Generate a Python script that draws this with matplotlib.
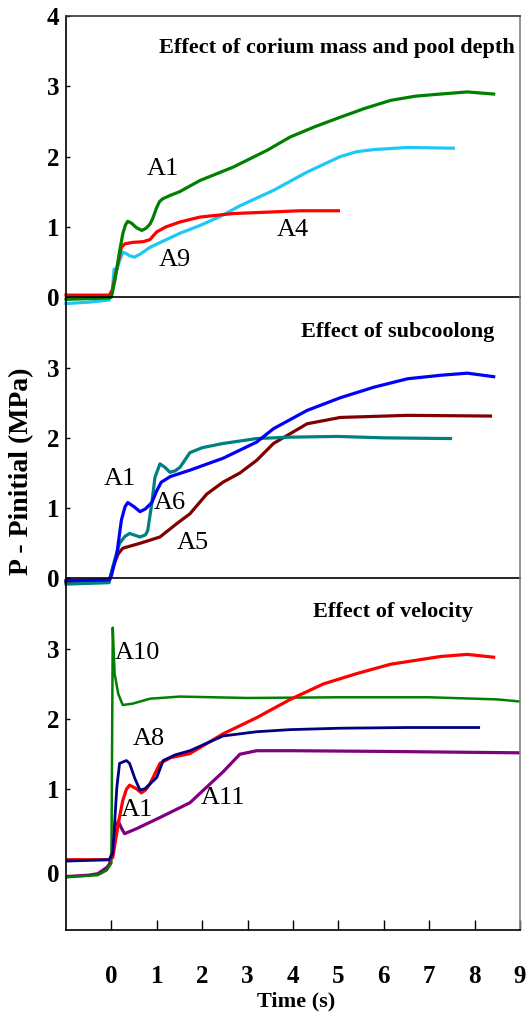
import matplotlib
matplotlib.use('Agg')
import matplotlib.pyplot as plt
from matplotlib.transforms import ScaledTranslation

# ---------------- data ----------------
# Panel 1: effect of corium mass and pool depth
p1_A1_t = [-1, -0.5, -0.05, 0.0, 0.08, 0.18, 0.25, 0.31, 0.36, 0.45, 0.55, 0.67, 0.76, 0.85, 0.91, 1.0, 1.06, 1.13, 1.3, 1.5, 1.95, 2.68, 3.43, 3.94, 4.5, 5.04, 5.6, 6.15, 6.7, 7.25, 7.84, 8.42]
p1_A1_v = [-0.03, -0.02, -0.01, 0.0, 0.25, 0.65, 0.9, 1.03, 1.08, 1.05, 0.99, 0.95, 0.98, 1.04, 1.12, 1.28, 1.36, 1.40, 1.45, 1.5, 1.66, 1.85, 2.09, 2.28, 2.43, 2.56, 2.69, 2.80, 2.86, 2.89, 2.92, 2.89]
p1_A4_t = [-1, -0.05, 0.02, 0.1, 0.22, 0.3, 0.47, 0.7, 0.85, 0.93, 1.0, 1.2, 1.51, 1.95, 2.68, 3.43, 4.16, 5.0]
p1_A4_v = [0.03, 0.03, 0.1, 0.35, 0.71, 0.76, 0.78, 0.79, 0.82, 0.88, 0.93, 1.0, 1.07, 1.14, 1.19, 1.21, 1.23, 1.23]
p1_A9_t = [-1, -0.5, -0.05, 0.02, 0.06, 0.1, 0.18, 0.25, 0.33, 0.4, 0.51, 0.65, 0.85, 1.51, 1.95, 2.4, 2.83, 3.57, 4.31, 5.04, 5.4, 5.78, 6.52, 7.53]
p1_A9_v = [-0.09, -0.07, -0.04, 0.1, 0.4, 0.35, 0.52, 0.64, 0.62, 0.59, 0.57, 0.62, 0.71, 0.91, 1.02, 1.15, 1.3, 1.52, 1.78, 2.0, 2.07, 2.1, 2.13, 2.12]

# Panel 2: effect of subcooling
p2_A1_t = [-1, -0.05, 0.0, 0.12, 0.22, 0.3, 0.36, 0.5, 0.63, 0.75, 0.89, 1.0, 1.1, 1.3, 1.73, 2.46, 3.2, 3.57, 4.31, 5.04, 5.78, 6.52, 7.25, 7.84, 8.42]
p2_A1_v = [-0.03, -0.02, 0.04, 0.35, 0.83, 1.02, 1.08, 1.02, 0.95, 0.99, 1.08, 1.25, 1.37, 1.45, 1.54, 1.71, 1.94, 2.13, 2.39, 2.57, 2.72, 2.84, 2.89, 2.92, 2.87]
p2_A6_t = [-1, -0.05, 0.07, 0.18, 0.3, 0.4, 0.63, 0.75, 0.8, 0.89, 0.96, 1.07, 1.18, 1.29, 1.4, 1.51, 1.73, 2.0, 2.46, 3.2, 3.94, 4.98, 6.0, 7.47]
p2_A6_v = [-0.08, -0.06, 0.26, 0.5, 0.6, 0.64, 0.59, 0.62, 0.68, 1.07, 1.44, 1.63, 1.58, 1.51, 1.53, 1.58, 1.79, 1.86, 1.92, 1.99, 2.01, 2.02, 2.0, 1.99]
p2_A5_t = [-1, -0.05, 0.03, 0.15, 0.25, 0.63, 1.07, 1.44, 1.73, 2.1, 2.46, 2.83, 3.2, 3.57, 3.94, 4.31, 5.04, 6.52, 8.35]
p2_A5_v = [-0.05, -0.04, 0.16, 0.35, 0.43, 0.5, 0.59, 0.78, 0.92, 1.2, 1.37, 1.5, 1.68, 1.92, 2.06, 2.2, 2.29, 2.32, 2.31]

# Panel 3: effect of velocity
p3_A1_t = [-1, -0.05, 0.03, 0.15, 0.25, 0.33, 0.4, 0.55, 0.66, 0.75, 0.85, 1.07, 1.3, 1.73, 2.46, 3.2, 3.94, 4.67, 5.42, 6.15, 7.25, 7.84, 8.42]
p3_A1_v = [0.0, 0.0, 0.03, 0.51, 0.84, 1.0, 1.06, 1.01, 0.95, 0.99, 1.08, 1.37, 1.45, 1.51, 1.79, 2.02, 2.28, 2.5, 2.65, 2.78, 2.89, 2.92, 2.88]
p3_A8_t = [-1, -0.05, 0.03, 0.12, 0.18, 0.33, 0.4, 0.52, 0.63, 0.74, 1.0, 1.14, 1.4, 1.73, 2.46, 3.2, 3.94, 5.04, 6.52, 8.09]
p3_A8_v = [-0.02, 0.0, 0.09, 1.03, 1.37, 1.41, 1.37, 1.15, 0.99, 1.01, 1.17, 1.41, 1.49, 1.55, 1.76, 1.82, 1.85, 1.87, 1.88, 1.88]
p3_A10_t = [-1, -0.3, -0.1, 0.0, 0.03, 0.07, 0.15, 0.25, 0.47, 0.85, 1.51, 3.0, 5.0, 7.0, 8.5, 9.0]
p3_A10_v = [-0.25, -0.22, -0.15, -0.05, 3.3, 2.65, 2.36, 2.2, 2.22, 2.29, 2.32, 2.3, 2.31, 2.31, 2.28, 2.25]
p3_A11_t = [-1, -0.5, -0.3, -0.1, -0.04, 0.07, 0.15, 0.22, 0.29, 0.55, 1.07, 1.73, 2.46, 2.83, 3.2, 4.0, 6.0, 9.0]
p3_A11_v = [-0.24, -0.22, -0.2, -0.11, -0.06, 0.31, 0.55, 0.45, 0.37, 0.44, 0.6, 0.81, 1.25, 1.5, 1.55, 1.55, 1.54, 1.52]

x_ticks = list(range(0, 10))
titles = ['Effect of corium mass and pool depth', 'Effect of subcoolong', 'Effect of velocity']

# ---------------- figure ----------------
plt.rcParams['font.family'] = ['Liberation Serif', 'DejaVu Serif']
plt.rcParams['font.weight'] = 'bold'

fig = plt.figure(figsize=(5.29, 10.24), dpi=100, facecolor='white')
gs = fig.add_gridspec(3, 1, height_ratios=[4, 4, 5], hspace=0,
                      left=66/529, right=520/529, bottom=94/1024, top=1008/1024)
ax1 = fig.add_subplot(gs[0])
ax2 = fig.add_subplot(gs[1], sharex=ax1)
ax3 = fig.add_subplot(gs[2], sharex=ax1)
axes = [ax1, ax2, ax3]
for ax in axes:
    ax.patch.set_visible(False)

lw = 2.3
ax1.plot(p1_A9_t, p1_A9_v, color='#1ec8f5', lw=lw, clip_on=False)
ax1.plot(p1_A4_t, p1_A4_v, color='#ff0000', lw=lw, clip_on=False)
ax1.plot(p1_A1_t, p1_A1_v, color='#008000', lw=lw, clip_on=False)

ax2.plot(p2_A5_t, p2_A5_v, color='#800000', lw=lw, clip_on=False)
ax2.plot(p2_A6_t, p2_A6_v, color='#008080', lw=lw, clip_on=False)
ax2.plot(p2_A1_t, p2_A1_v, color='#0000ff', lw=lw, clip_on=False)

ax3.plot(p3_A11_t, p3_A11_v, color='#800080', lw=lw)
ax3.plot(p3_A10_t, p3_A10_v, color='#008000', lw=1.8)
ax3.plot(p3_A1_t, p3_A1_v, color='#ff0000', lw=lw)
ax3.plot(p3_A8_t, p3_A8_v, color='#000080', lw=2.0)

ax1.set_ylim(0, 4)
ax2.set_ylim(0, 4)
ax3.set_ylim(-1, 4)
ax1.set_xlim(-1, 9)
ax1.set_yticks([0, 1, 2, 3, 4])
ax2.set_yticks([0, 1, 2, 3])
ax3.set_yticks([0, 1, 2, 3])
ax3.set_xticks(x_ticks)

for i, ax in enumerate(axes):
    ax.tick_params(axis='y', direction='in', length=3, width=1, labelsize=18, pad=5)
    ax.spines['right'].set_color('#808080')
    ax.spines['right'].set_linewidth(1.2)
    for s in ['left', 'bottom', 'top']:
        ax.spines[s].set_linewidth(1.2)
        ax.spines[s].set_color('black')
    if i > 0:
        ax.spines['top'].set_visible(False)
    if i < 2:
        ax.tick_params(axis='x', bottom=False, labelbottom=False)
ax3.tick_params(axis='x', direction='in', length=7, width=1, labelsize=18, pad=25)
ax1.spines['top'].set_color('#333333')

# the "0" label of the bottom panel sits a little lower in the original
lbl0 = ax3.get_yticklabels()[0]
lbl0.set_transform(lbl0.get_transform() + ScaledTranslation(0, -0.13, fig.dpi_scale_trans))

# titles
ax1.text(4.97, 3.54, titles[0], ha='center', va='center', fontsize=16, fontweight='bold')
ax2.text(6.3, 3.51, titles[1], ha='center', va='center', fontsize=16, fontweight='bold')
ax3.text(6.21, 3.53, titles[2], ha='center', va='center', fontsize=16, fontweight='bold')

# curve labels
lab = dict(ha='center', va='center', fontsize=19, fontweight='normal')
ax1.text(1.14, 1.83, 'A1', **lab)
ax1.text(1.4, 0.53, 'A9', **lab)
ax1.text(4.0, 0.95, 'A4', **lab)
ax2.text(0.19, 1.42, 'A1', **lab)
ax2.text(1.29, 1.08, 'A6', **lab)
ax2.text(1.8, 0.5, 'A5', **lab)
ax3.text(0.58, 2.94, 'A10', **lab)
ax3.text(0.82, 1.72, 'A8', **lab)
ax3.text(0.55, 0.70, 'A1', **lab)
ax3.text(2.46, 0.88, 'A11', **lab)

fig.text(22/529, 1 - 471/1024, 'P - Pinitial (MPa)', rotation=90, ha='center', va='center',
         fontsize=20, fontweight='bold')
fig.text(296/529, 1 - 1001/1024, 'Time (s)', ha='center', va='center', fontsize=16, fontweight='bold')

fig.savefig('out.png', dpi=100, facecolor='white')
